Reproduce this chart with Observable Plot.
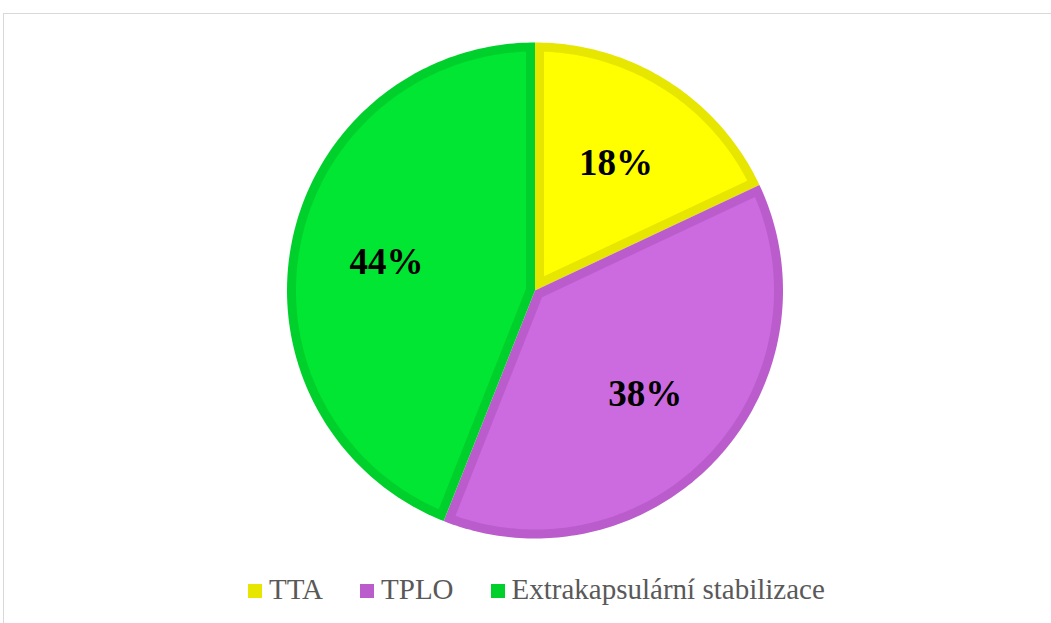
<!DOCTYPE html>
<html>
<head>
<meta charset="utf-8">
<script src="https://cdn.jsdelivr.net/npm/d3@7"></script>
<script src="https://cdn.jsdelivr.net/npm/@observablehq/plot@0.6"></script>
<style>
  html, body { margin: 0; padding: 0; background: #fff; }
  #wrap { position: relative; width: 1051px; height: 623px; overflow: hidden; background: #fff; }
  #frame { position: absolute; left: 3px; top: 13px; width: 1100px; height: 700px; border: 1px solid #d9d9d9; box-sizing: border-box; }
  #chart { position: absolute; left: 0; top: 0; }
  #legend { position: absolute; left: 248px; top: 573px; display: flex; align-items: center;
            font-family: "Liberation Serif", "Times New Roman", serif; font-size: 29px; color: #595959; line-height: 32px; white-space: nowrap; }
  .item { display: flex; align-items: center; margin-right: 37px; }
  .sw { width: 14px; height: 14px; margin-right: 7px; margin-top: 3px; }
</style>
</head>
<body>
<div id="wrap">
  <div id="frame"></div>
  <div id="chart"></div>
  <div id="legend"></div>
</div>
<script>
// ---- data ----
const categories = ["TTA", "TPLO", "Extrakapsulární stabilizace"];
const values = [18, 38, 44];
const labels = ["18%", "38%", "44%"];
const fillColors = ["#FFFF00", "#CC6ADF", "#00E632"];
const borderColors = ["#E6E600", "#BB5CCC", "#00D02C"];

// ---- layout ----
const W = 1051, H = 565;
const cx = 534.5, cy = 290, Rpx = 248;
const w = 9 / Rpx;          // inset border width (unit radius)
const labelR = 0.61;

const total = d3.sum(values);
let acc = 0;
const slices = values.map((v, i) => {
  const a0 = acc / total * 2 * Math.PI;
  acc += v;
  const a1 = acc / total * 2 * Math.PI;
  return {cat: categories[i], value: v, a0, a1, i};
});

const pt = (r, a) => ({x: r * Math.sin(a), y: r * Math.cos(a)});
function wedge(s, r, inset) {
  const pts = [];
  const n = Math.max(8, Math.ceil((s.a1 - s.a0) / (Math.PI / 180)));
  if (!inset) {
    pts.push({x: 0, y: 0});
    for (let k = 0; k <= n; k++) pts.push(pt(r, s.a0 + (s.a1 - s.a0) * k / n));
  } else {
    const h = (s.a1 - s.a0) / 2;
    const am = (s.a0 + s.a1) / 2;
    pts.push(pt(inset / Math.sin(h), am));
    const ri = r - inset;
    const d = Math.asin(inset / ri);
    const b0 = s.a0 + d, b1 = s.a1 - d;
    for (let k = 0; k <= n; k++) pts.push(pt(ri, b0 + (b1 - b0) * k / n));
  }
  return pts.map(p => ({...p, cat: s.cat}));
}

const marks = [];
slices.forEach(s => {
  marks.push(Plot.line(wedge(s, 1, 0), {x: "x", y: "y", fill: borderColors[s.i], stroke: "none", curve: "linear-closed"}));
});
slices.forEach(s => {
  marks.push(Plot.line(wedge(s, 1, w), {x: "x", y: "y", fill: fillColors[s.i], stroke: "none", curve: "linear-closed"}));
});
const labelData = slices.map(s => ({...pt(labelR, (s.a0 + s.a1) / 2), text: labels[s.i]}));
marks.push(Plot.text(labelData, {x: "x", y: "y", text: "text", fontSize: 37, fontWeight: "bold",
  fontFamily: "Liberation Serif, Times New Roman, serif", fill: "#000"}));

const chart = Plot.plot({
  width: W, height: H,
  marginTop: 0, marginBottom: 0, marginLeft: 0, marginRight: 0,
  x: {domain: [-cx / Rpx, (W - cx) / Rpx], axis: null},
  y: {domain: [-(H - cy) / Rpx, cy / Rpx], axis: null},
  style: {background: "transparent", overflow: "visible"},
  marks
});
document.getElementById("chart").appendChild(chart);

const legend = document.getElementById("legend");
categories.forEach((c, i) => {
  const it = document.createElement("div");
  it.className = "item";
  const sw = document.createElement("div");
  sw.className = "sw";
  sw.style.background = borderColors[i];
  const t = document.createElement("span");
  t.textContent = c;
  it.appendChild(sw); it.appendChild(t);
  legend.appendChild(it);
});
</script>
</body>
</html>
